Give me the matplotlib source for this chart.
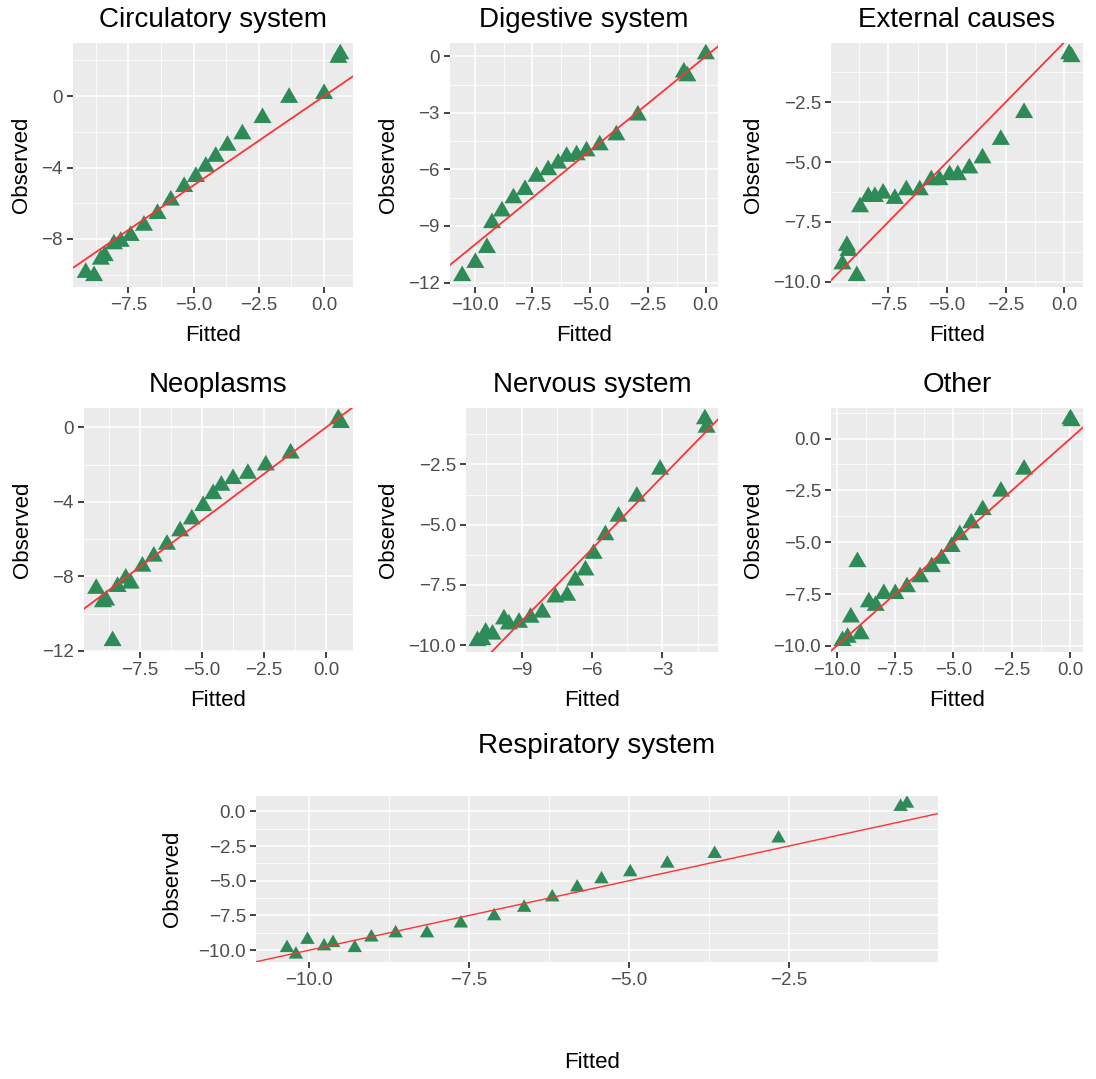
import numpy as np
import matplotlib
matplotlib.use("Agg")
import matplotlib.pyplot as plt
from matplotlib.ticker import MultipleLocator, AutoMinorLocator, FuncFormatter

plt.rcParams['font.family'] = ['Liberation Sans', 'DejaVu Sans']

# --- data (fitted, observed) ---
circ_fit = [-9.13, -8.81, -8.55, -8.40, -8.05, -7.79, -7.41, -6.90, -6.38, -5.87, -5.36,
            -4.91, -4.53, -4.15, -3.70, -3.13, -2.36, -1.34, 0.0, 0.55, 0.62]
circ_obs = [-9.89, -10.07, -9.15, -8.95, -8.29, -8.15, -7.82, -7.25, -6.59, -5.84, -5.08,
            -4.52, -3.95, -3.39, -2.77, -2.13, -1.22, -0.09, 0.13, 2.15, 2.35]

dig_fit = [-10.54, -9.97, -9.47, -9.25, -8.82, -8.32, -7.82, -7.32, -6.82, -6.39, -6.02,
           -5.59, -5.16, -4.59, -3.87, -2.94, -0.95, -0.80, 0.0]
dig_obs = [-11.65, -10.95, -10.16, -8.84, -8.22, -7.52, -7.08, -6.38, -6.03, -5.68, -5.32,
           -5.24, -5.03, -4.71, -4.18, -3.13, -0.85, -1.05, 0.12]

ext_fit = [-9.45, -9.26, -9.19, -8.84, -8.70, -8.35, -8.07, -7.72, -7.22, -6.73, -6.16,
           -5.67, -5.32, -4.89, -4.54, -4.05, -3.49, -2.71, -1.72, 0.20, 0.30]
ext_obs = [-9.26, -8.49, -8.70, -9.75, -6.88, -6.45, -6.45, -6.31, -6.53, -6.17, -6.17,
           -5.75, -5.75, -5.54, -5.54, -5.26, -4.84, -4.07, -2.95, -0.50, -0.62]

neo_fit = [-9.25, -8.98, -8.85, -8.59, -8.39, -8.06, -7.86, -7.39, -6.93, -6.40, -5.87,
           -5.40, -4.94, -4.54, -4.21, -3.74, -3.14, -2.42, -1.42, 0.50, 0.60]
neo_obs = [-8.66, -9.38, -9.29, -11.47, -8.56, -8.11, -8.38, -7.47, -6.93, -6.29, -5.57,
           -4.93, -4.21, -3.57, -3.12, -2.76, -2.48, -2.03, -1.39, 0.45, 0.25]

nerv_fit = [-10.88, -10.67, -10.53, -10.24, -9.75, -9.54, -9.11, -8.62, -8.12, -7.56, -7.06,
            -6.71, -6.28, -5.93, -5.43, -4.87, -4.09, -3.10, -1.19, -1.12]
nerv_obs = [-9.82, -9.78, -9.47, -9.55, -8.92, -9.13, -9.06, -8.85, -8.64, -8.01, -7.94,
            -7.31, -6.89, -6.20, -5.43, -4.66, -3.83, -2.71, -0.62, -0.97]

oth_fit = [-9.75, -9.53, -9.39, -9.11, -8.97, -8.62, -8.33, -7.98, -7.49, -6.99, -6.43,
           -5.93, -5.51, -5.08, -4.73, -4.24, -3.75, -2.97, -1.98, 0.0, 0.05]
oth_obs = [-9.76, -9.60, -8.62, -5.95, -9.43, -7.89, -8.06, -7.49, -7.49, -7.16, -6.68,
           -6.19, -5.79, -5.22, -4.65, -4.08, -3.44, -2.55, -1.49, 0.94, 0.85]

resp_fit = [-10.35, -10.21, -10.03, -9.77, -9.63, -9.29, -9.03, -8.65, -8.16, -7.63, -7.11,
            -6.64, -6.20, -5.81, -5.43, -4.98, -4.40, -3.66, -2.66, -0.75, -0.65]
resp_obs = [-9.84, -10.31, -9.25, -9.72, -9.48, -9.84, -9.08, -8.78, -8.78, -8.07, -7.55,
            -6.94, -6.19, -5.48, -4.89, -4.38, -3.76, -3.06, -1.95, 0.33, 0.56]

W, H = 1096, 1079
GREEN = '#2E8B57'


def fmt(decimals):
    def f(v, pos):
        s = f"{v:.{decimals}f}"
        if s.startswith('-'):
            if float(s) == 0:
                s = s[1:]
            else:
                s = '\u2212' + s[1:]
        return s
    return FuncFormatter(f)


def make_panel(box, fit, obs, title, xstep, ystep, xdec, ydec,
               msize=15, lw=1.3, xlabel=True, title_pad=11.5, ylabpad=6.5):
    l, r, t, b = box
    ax = fig.add_axes([l / W, 1 - b / H, (r - l) / W, (b - t) / H])
    ax.set_facecolor('#EBEBEB')
    for s in ax.spines.values():
        s.set_visible(False)
    ax.scatter(fit, obs, marker=(3, 0, 0), s=msize ** 2, color=GREEN,
               edgecolors='none', zorder=3)
    # limits from the points only (5% expansion), then the y = x reference line
    ax.margins(0.05)
    ax.autoscale_view()
    ax.set_autoscale_on(False)
    ax.axline((0, 0), slope=1, color='#FF3333', lw=lw, zorder=4)
    ax.xaxis.set_major_locator(MultipleLocator(xstep))
    ax.yaxis.set_major_locator(MultipleLocator(ystep))
    ax.xaxis.set_minor_locator(AutoMinorLocator(2))
    ax.yaxis.set_minor_locator(AutoMinorLocator(2))
    ax.xaxis.set_major_formatter(fmt(xdec))
    ax.yaxis.set_major_formatter(fmt(ydec))
    ax.grid(which='major', color='white', lw=1.1)
    ax.grid(which='minor', color='white', lw=0.55)
    ax.set_axisbelow(True)
    ax.tick_params(which='major', length=4.3, width=1.3, color='#333333',
                   labelcolor='#4D4D4D', labelsize=13.5, pad=3)
    ax.tick_params(which='minor', length=0)
    ax.set_title(title, fontsize=20, pad=title_pad)
    ax.set_ylabel('Observed', fontsize=16, labelpad=ylabpad)
    if xlabel:
        ax.set_xlabel('Fitted', fontsize=16, labelpad=8)
    return ax


fig = plt.figure(figsize=(W / 100, H / 100), dpi=100)

make_panel((73, 353, 43, 287), circ_fit, circ_obs, 'Circulatory system', 2.5, 4, 1, 0)
make_panel((450, 718, 43, 287), dig_fit, dig_obs, 'Digestive system', 2.5, 3, 1, 0)
make_panel((831, 1083, 43, 287), ext_fit, ext_obs, 'External causes', 2.5, 2.5, 1, 1)
make_panel((84, 353, 408, 652), neo_fit, neo_obs, 'Neoplasms', 2.5, 4, 1, 0)
make_panel((466, 718, 408, 652), nerv_fit, nerv_obs, 'Nervous system', 3, 2.5, 0, 1)
make_panel((831, 1083, 408, 652), oth_fit, oth_obs, 'Other', 2.5, 2.5, 1, 1)
make_panel((256, 938, 796, 962), resp_fit, resp_obs, 'Respiratory system', 2.5, 2.5, 1, 1,
           msize=12, lw=1.0, xlabel=False, title_pad=31, ylabpad=11)

fig.text(592 / W, 1 - 1062 / H, 'Fitted', fontsize=16, ha='center', va='center')

fig.savefig('out.png', dpi=100)
